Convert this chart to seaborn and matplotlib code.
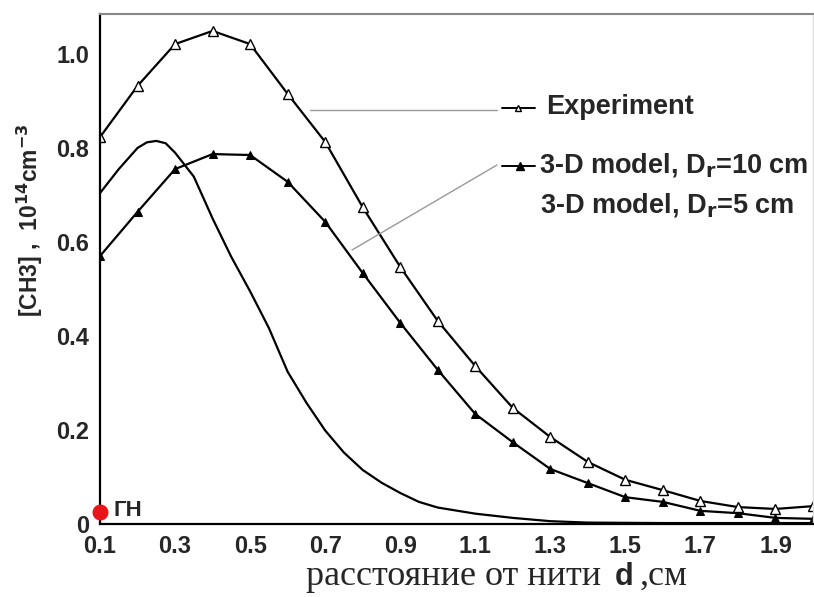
import numpy as np
import pandas as pd
import matplotlib
matplotlib.use("Agg")
import matplotlib.pyplot as plt
import seaborn as sns
from matplotlib.lines import Line2D

# ---- data ----
d_points = [0.1, 0.2, 0.3, 0.4, 0.5, 0.6, 0.7, 0.8, 0.9, 1.0,
            1.1, 1.2, 1.3, 1.4, 1.5, 1.6, 1.7, 1.8, 1.9, 2.0]
experiment = [0.823, 0.932, 1.021, 1.049, 1.021, 0.915, 0.813, 0.674, 0.547, 0.432,
              0.336, 0.247, 0.185, 0.132, 0.094, 0.072, 0.049, 0.036, 0.032, 0.038]
model_dr10 = [0.570, 0.664, 0.755, 0.787, 0.785, 0.728, 0.643, 0.534, 0.428, 0.328,
              0.234, 0.174, 0.117, 0.087, 0.057, 0.047, 0.028, 0.023, 0.013, 0.011]
d_dr5 = [0.10, 0.15, 0.20, 0.225, 0.25, 0.275, 0.30, 0.35, 0.40, 0.45, 0.50, 0.55,
         0.60, 0.65, 0.70, 0.75, 0.80, 0.85, 0.90, 0.95, 1.00, 1.10, 1.20, 1.30,
         1.40, 1.60, 1.80, 2.00]
model_dr5 = [0.704, 0.755, 0.800, 0.812, 0.815, 0.810, 0.790, 0.739, 0.650, 0.568, 0.495, 0.417,
             0.324, 0.258, 0.199, 0.152, 0.115, 0.088, 0.066, 0.047, 0.035, 0.022, 0.013, 0.006,
             0.003, 0.002, 0.002, 0.002]
gn_d, gn_val = [0.1], [0.026]

x_ticks = [round(0.1 * i, 1) for i in range(1, 21)]
x_ticklabels = [f"{v:.1f}" if round(v * 10) % 2 == 1 else "" for v in x_ticks]
y_ticks = [0, 0.2, 0.4, 0.6, 0.8, 1.0]
y_ticklabels = ["0", "0.2", "0.4", "0.6", "0.8", "1.0"]

legend_labels = ["Experiment", "3-D model, D$_\\mathbf{r}$=10 cm", "3-D model, D$_\\mathbf{r}$=5 cm"]

# ---- figure ----
sns.set_style("white")
plt.rcParams['font.family'] = ['Liberation Sans', 'DejaVu Sans']
W, H = 814, 597
fig = plt.figure(figsize=(W / 100, H / 100), dpi=100)
ax = fig.add_axes([100 / W, (H - 524) / H, 713 / W, 510 / H])

def px(x, y):
    return (x / W, 1 - y / H)

df_exp = pd.DataFrame({"d": d_points, "v": experiment})
df_10 = pd.DataFrame({"d": d_points, "v": model_dr10})
df_5 = pd.DataFrame({"d": d_dr5, "v": model_dr5})

sns.lineplot(data=df_5, x="d", y="v", ax=ax, color="black", lw=1.6)
sns.lineplot(data=df_10, x="d", y="v", ax=ax, color="black", lw=1.6,
             marker="^", markersize=6, markerfacecolor="black", markeredgecolor="black")
sns.lineplot(data=df_exp, x="d", y="v", ax=ax, color="black", lw=1.6,
             marker="^", markersize=7, markerfacecolor="white", markeredgecolor="black",
             markeredgewidth=1.0)
ax.plot(gn_d, gn_val, "o", color="#e8161b", markersize=10.5, clip_on=False, zorder=5)
ax.text(0.135, 0.028, "ГН", fontsize=16, fontweight="bold", va="center", ha="left")

ax.set_xlim(0.1, 2.0)
ax.set_ylim(0, 1.085)
ax.set_xticks(x_ticks)
ax.set_xticklabels(x_ticklabels)
ax.set_yticks(y_ticks)
ax.set_yticklabels(y_ticklabels)
ax.tick_params(axis="both", direction="inout", length=12, width=1.4, color="black",
               labelsize=17)
ax.tick_params(axis="x", pad=2)
ax.tick_params(axis="y", pad=2)
for lab in ax.get_xticklabels() + ax.get_yticklabels():
    lab.set_fontweight("bold")

ax.set_xlabel("")
ax.set_ylabel("[CH3] ,  10$^{\\mathbf{14}}$cm$^{\\mathbf{-3}}$", fontsize=16.5, fontweight="bold")
ax.yaxis.set_label_coords(-0.077, 0.596)

for s in ["left", "bottom"]:
    ax.spines[s].set_color("black")
    ax.spines[s].set_linewidth(1.6)
ax.spines["top"].set_color("#888888")
ax.spines["top"].set_linewidth(1.5)
ax.spines["right"].set_color("#dddddd")
ax.spines["right"].set_linewidth(1.0)

# leader lines
fig.add_artist(Line2D([px(310, 110)[0], px(497, 110)[0]], [px(310, 110)[1], px(497, 110)[1]],
                      color="#999999", lw=1.0))
fig.add_artist(Line2D([px(352, 250)[0], px(497, 165)[0]], [px(352, 250)[1], px(497, 165)[1]],
                      color="#999999", lw=1.0))
# legend handles
fig.add_artist(Line2D([px(502, 0)[0], px(535, 0)[0]], [px(0, 108)[1]] * 2, color="black", lw=1.4))
fig.add_artist(Line2D([px(518, 0)[0]], [px(0, 108)[1]], marker="^", markersize=5,
                      markerfacecolor="white", markeredgecolor="black", lw=0))
fig.add_artist(Line2D([px(502, 0)[0], px(535, 0)[0]], [px(0, 166)[1]] * 2, color="black", lw=1.4))
fig.add_artist(Line2D([px(520, 0)[0]], [px(0, 166)[1]], marker="^", markersize=6,
                      markerfacecolor="black", markeredgecolor="black", lw=0))
fig.text(*px(546, 107), legend_labels[0], fontsize=19.5, fontweight="bold", va="center", ha="left")
fig.text(*px(539, 165), legend_labels[1], fontsize=19.5, fontweight="bold", va="center", ha="left")
fig.text(*px(540, 205), legend_labels[2], fontsize=19.5, fontweight="bold", va="center", ha="left")

# x label pieces
fig.text(*px(601, 585), "расстояние от нити", fontsize=26, family="Liberation Serif",
         ha="right", va="baseline")
fig.text(*px(615, 585), "d", fontsize=22, fontweight="bold", ha="left", va="baseline")
fig.text(*px(640, 585), ",см", fontsize=26, family="Liberation Serif", ha="left", va="baseline")

fig.savefig("out.png", dpi=100, facecolor="white")
